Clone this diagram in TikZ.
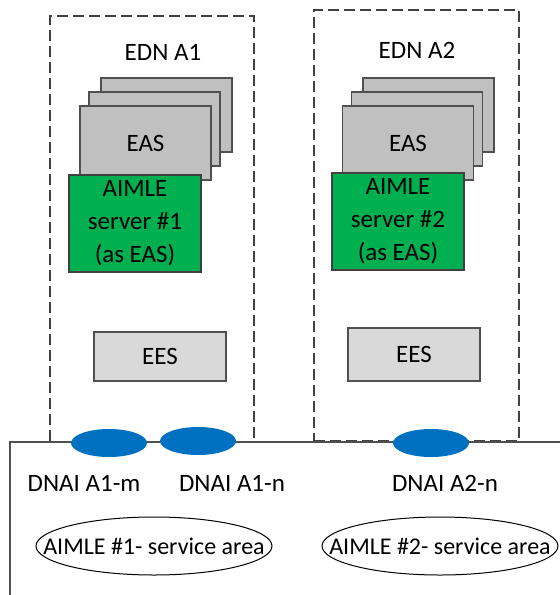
\documentclass[tikz,border=0pt]{standalone}
\usepackage{fontspec}
\setmainfont{Carlito}
\usetikzlibrary{shapes.geometric}
\definecolor{easgray}{HTML}{C0C0C0}
\definecolor{eesgray}{HTML}{D9D9D9}
\definecolor{aimgreen}{HTML}{00B050}
\definecolor{dnaiblue}{HTML}{0070C0}
\definecolor{edge}{HTML}{505050}
\definecolor{dashc}{HTML}{404040}
\tikzset{
  box/.style={rectangle, draw=edge, line width=1.3pt, inner sep=0pt, outer sep=0pt},
  easbox/.style={box, fill=easgray, minimum width=131pt, minimum height=74pt},
  aimbox/.style={box, fill=aimgreen, draw=dashc, minimum width=132pt, minimum height=97pt, align=center, font=\fontsize{25}{33}\selectfont},
  eesbox/.style={box, fill=eesgray, minimum width=132pt},
  ednbox/.style={rectangle, draw=dashc, line width=1.4pt, dash pattern=on 11pt off 5pt, inner sep=0pt},
  dnai/.style={ellipse, fill=dnaiblue, minimum width=76pt, minimum height=28pt, inner sep=0pt},
  area/.style={ellipse, draw=black, line width=1pt, minimum width=236pt, minimum height=58pt, inner sep=0pt},
  txt/.style={inner sep=0pt, font=\fontsize{25}{30}\selectfont},
  atxt/.style={inner sep=0pt, font=\fontsize{24}{30}\selectfont},
}
\begin{document}
\begin{tikzpicture}[x=1pt,y=-1pt]
\useasboundingbox (0,0) rectangle (560,595);
% dashed EDN boxes
\node[ednbox, minimum width=204pt, minimum height=426pt] (edn1) at (152,229) {};
\node[ednbox, minimum width=205pt, minimum height=431pt] (edn2) at (416.5,225.5) {};
\node[txt] (edn1l) at (163,52) {EDN A1};
\node[txt] (edn2l) at (417,50) {EDN A2};
% EAS stacks
\node[easbox] (eas1c) at (166.5,115) {};
\node[easbox] (eas1b) at (154.5,129) {};
\node[easbox, txt] (eas1a) at (145.5,143) {EAS};
\node[easbox] (eas2c) at (428.5,115) {};
\node[easbox] (eas2b) at (417,129) {};
\node[easbox, txt] (eas2a) at (408,143) {EAS};
% AIMLE servers
\node[aimbox] (aim1) at (135,223.5) {AIMLE\\server \#1\\(as EAS)};
\node[aimbox] (aim2) at (398,221.5) {AIMLE\\server \#2\\(as EAS)};
% EES
\node[eesbox, minimum height=49pt, txt] (ees1) at (160,356.5) {EES};
\node[eesbox, minimum height=53pt, txt] (ees2) at (414,354.5) {EES};
% DN boundary
\coordinate (bl) at (10,595);
\coordinate (tl) at (10,442);
\coordinate (tr) at (560,442);
\draw[edge, line width=1.3pt] (bl) -- (tl) -- (tr);
% DNAIs
\node[dnai] (d1) at (109,443) {};
\node[dnai] (d2) at (198,441) {};
\node[dnai] (d3) at (431,443) {};
\node[txt] (d1l) at (84,483) {DNAI A1-m};
\node[txt] (d2l) at (232,483) {DNAI A1-n};
\node[txt] (d3l) at (445,483) {DNAI A2-n};
% service areas
\node[area] (sa1) at (154,546) {};
\node[area] (sa2) at (440,546) {};
\node[atxt] (sa1l) at (sa1) {AIMLE \#1- service area};
\node[atxt] (sa2l) at (sa2) {AIMLE \#2- service area};
\end{tikzpicture}
\end{document}
